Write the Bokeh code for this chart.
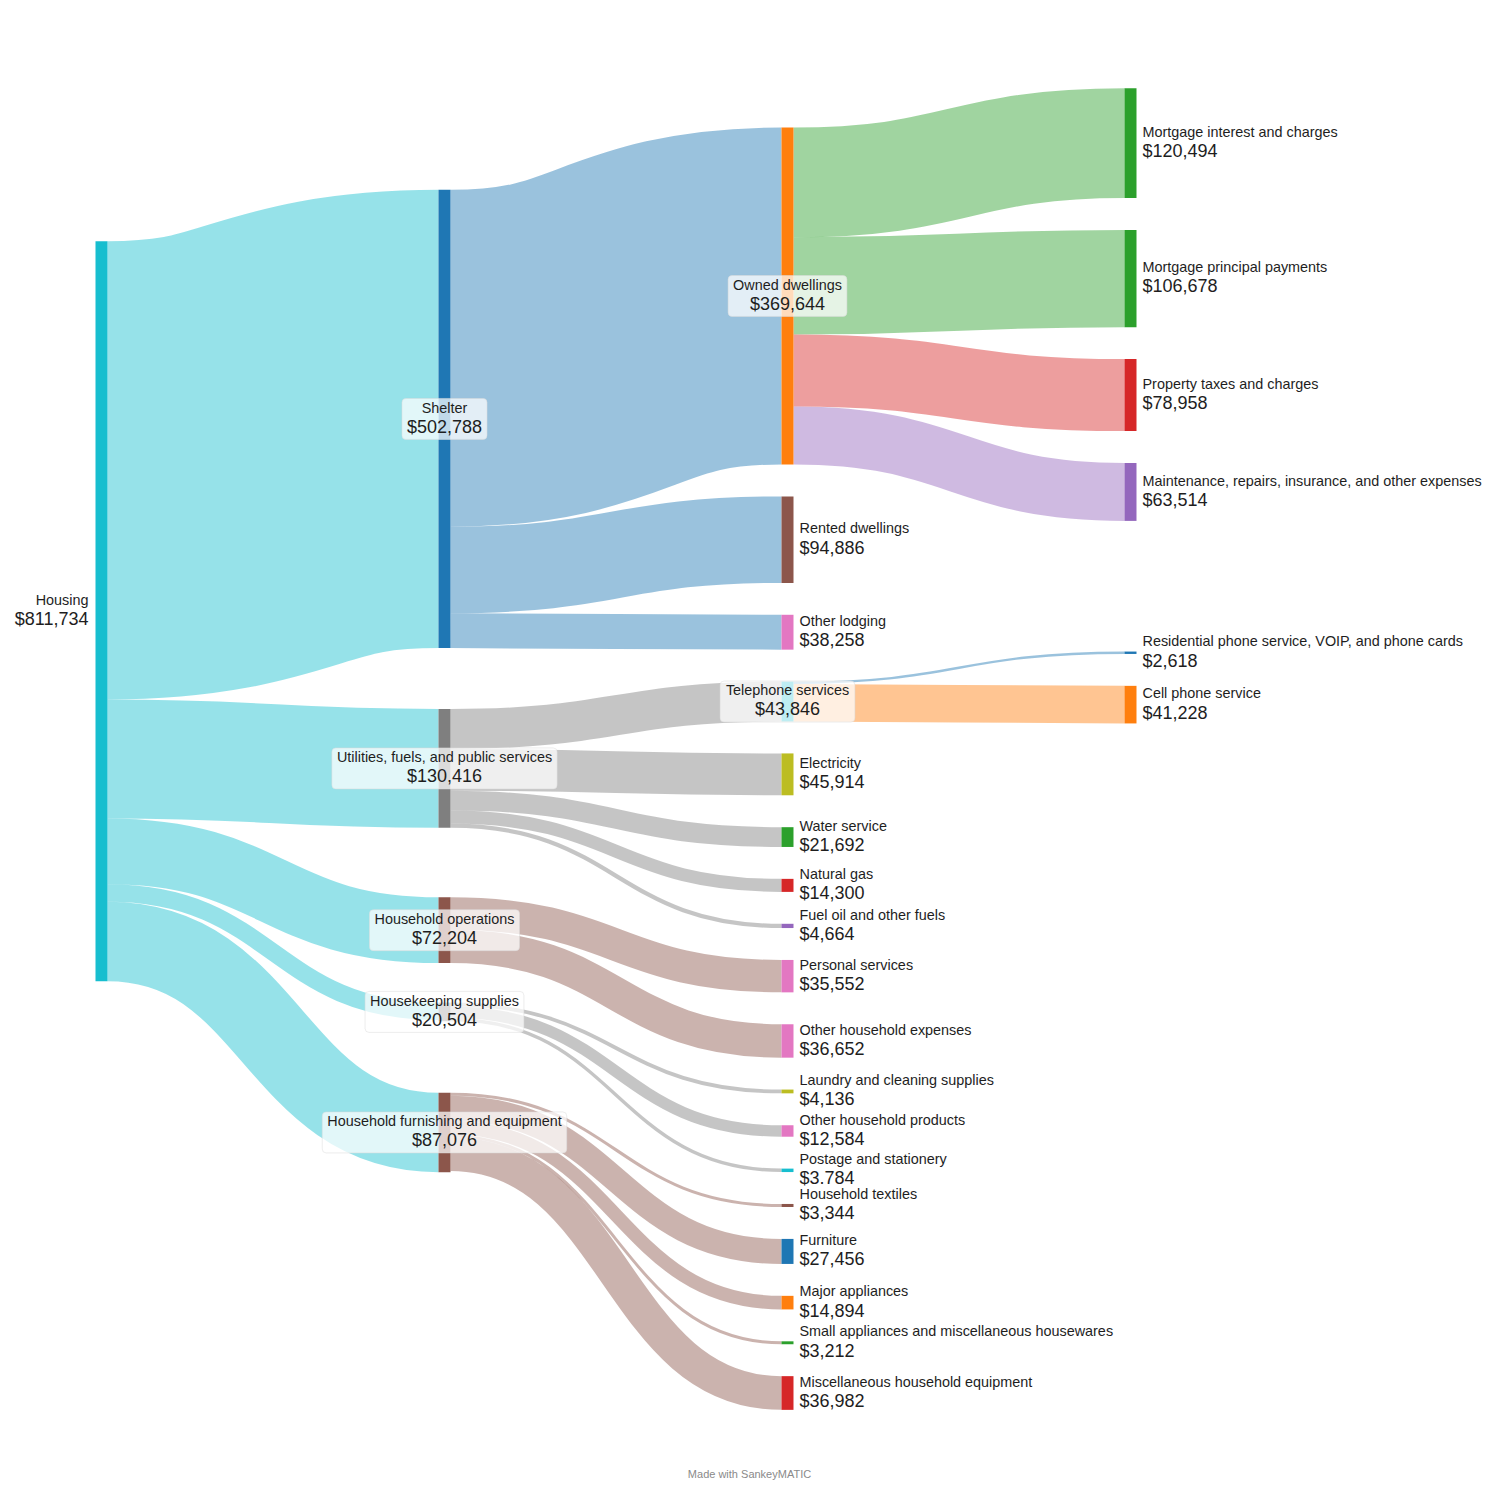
import numpy as np
from bokeh.plotting import figure
from bokeh.models import Range1d, ColumnDataSource
from bokeh.embed import file_html
from bokeh.resources import INLINE
from bokeh.core.properties import value

# ---------------- data ----------------
UTIL = "Utilities, fuels, and public services"
FURN = "Household furnishing and equipment"

flow_from = [
    "Housing", "Housing", "Housing", "Housing", "Housing",
    "Shelter", "Shelter", "Shelter",
    UTIL, UTIL, UTIL, UTIL, UTIL,
    "Household operations", "Household operations",
    "Housekeeping supplies", "Housekeeping supplies", "Housekeeping supplies",
    FURN, FURN, FURN, FURN, FURN,
    "Owned dwellings", "Owned dwellings", "Owned dwellings", "Owned dwellings",
    "Telephone services", "Telephone services",
]
flow_to = [
    "Shelter", UTIL, "Household operations", "Housekeeping supplies", FURN,
    "Owned dwellings", "Rented dwellings", "Other lodging",
    "Telephone services", "Electricity", "Water service", "Natural gas", "Fuel oil and other fuels",
    "Personal services", "Other household expenses",
    "Laundry and cleaning supplies", "Other household products", "Postage and stationery",
    "Household textiles", "Furniture", "Major appliances",
    "Small appliances and miscellaneous housewares", "Miscellaneous household equipment",
    "Mortgage interest and charges", "Mortgage principal payments",
    "Property taxes and charges", "Maintenance, repairs, insurance, and other expenses",
    "Residential phone service, VOIP, and phone cards", "Cell phone service",
]
flow_amount = [
    502788, 130416, 72204, 19250, 87076,
    369644, 94886, 38258,
    43846, 45914, 21692, 14300, 4664,
    35552, 36652,
    4136, 12584, 3784,
    3344, 27456, 14894, 3212, 36982,
    120494, 106678, 78958, 63514,
    2618, 41228,
]
value_text_override = {"Postage and stationery": "$3.784"}

# ---------------- styles ----------------
NODE_COLOR = {
    "Housing": "#17becf", "Shelter": "#1f77b4", UTIL: "#7f7f7f",
    "Household operations": "#8c564b", "Housekeeping supplies": "#7f7f7f", FURN: "#8c564b",
    "Owned dwellings": "#ff7f0e", "Rented dwellings": "#8c564b", "Other lodging": "#e377c2",
    "Telephone services": "#17becf", "Electricity": "#bcbd22", "Water service": "#2ca02c",
    "Natural gas": "#d62728", "Fuel oil and other fuels": "#9467bd",
    "Personal services": "#e377c2", "Other household expenses": "#e377c2",
    "Laundry and cleaning supplies": "#bcbd22", "Other household products": "#e377c2",
    "Postage and stationery": "#17becf", "Household textiles": "#8c564b",
    "Furniture": "#1f77b4", "Major appliances": "#ff7f0e",
    "Small appliances and miscellaneous housewares": "#2ca02c",
    "Miscellaneous household equipment": "#d62728",
    "Mortgage interest and charges": "#2ca02c", "Mortgage principal payments": "#2ca02c",
    "Property taxes and charges": "#d62728",
    "Maintenance, repairs, insurance, and other expenses": "#9467bd",
    "Residential phone service, VOIP, and phone cards": "#1f77b4",
    "Cell phone service": "#ff7f0e",
}
TARGET_COLORED = {"Owned dwellings", "Telephone services"}
FONT = "Liberation Sans"
TEXT_COLOR = "#1e1e1e"

W = H = 1484
ORIGIN = 1                    # observed screen position of plot's top-left corner
COL_X0, COL_STEP, NODE_W = 96, 343, 12
K = 740.0 / 811734.0          # px per dollar
GAP = 31.9 / K                # node padding in dollars
TOP_PX = 128                  # screen y of layout origin

# ---------------- layout ----------------
names = []
for s, t in zip(flow_from, flow_to):
    for n in (s, t):
        if n not in names:
            names.append(n)
inflow = {n: 0 for n in names}
outflow = {n: 0 for n in names}
out_links = {n: [] for n in names}
in_links = {n: [] for n in names}
for i, (s, t, v) in enumerate(zip(flow_from, flow_to, flow_amount)):
    outflow[s] += v
    inflow[t] += v
    out_links[s].append(i)
    in_links[t].append(i)
nval = {n: max(inflow[n], outflow[n]) for n in names}
depth = {}
for n in names:
    depth[n] = 0 if not in_links[n] else depth[flow_from[in_links[n][0]]] + 1
cols = {}
for n in names:
    cols.setdefault(depth[n], []).append(n)

out_off = [0.0] * len(flow_amount)
in_off = [0.0] * len(flow_amount)
for n in names:
    c = 0.0
    for i in out_links[n]:
        out_off[i] = c
        c += flow_amount[i]
    c = 0.0
    for i in in_links[n]:
        in_off[i] = c
        c += flow_amount[i]

top = {}
y = 0.0
for n in cols[2]:
    top[n] = y
    y += nval[n] + GAP


def left_align(n):
    w = sum(flow_amount[i] for i in in_links[n])
    return sum(flow_amount[i] * (top[flow_from[i]] + out_off[i] - in_off[i]) for i in in_links[n]) / w


def right_align(n):
    w = sum(flow_amount[i] for i in out_links[n])
    return sum(flow_amount[i] * (top[flow_to[i]] + in_off[i] - out_off[i]) for i in out_links[n]) / w


def resolve(nodes, desired):
    order = sorted(nodes, key=lambda n: desired[n])
    blocks = []

    def place(b):
        rel, r = {}, 0.0
        for n in b:
            rel[n] = r
            r += nval[n] + GAP
        wsum = sum(nval[n] for n in b)
        t0 = sum(nval[n] * (desired[n] - rel[n]) for n in b) / wsum
        return {n: t0 + rel[n] for n in b}

    for n in order:
        blocks.append([n])
        while len(blocks) > 1:
            a, b = place(blocks[-2]), place(blocks[-1])
            last_a = blocks[-2][-1]
            if a[last_a] + nval[last_a] + GAP > b[blocks[-1][0]]:
                merged = blocks[-2] + blocks[-1]
                blocks = blocks[:-2] + [merged]
            else:
                break
    for b in blocks:
        top.update(place(b))


resolve(cols[3], {n: left_align(n) for n in cols[3]})

for n in cols[1]:
    top[n] = right_align(n)
top["Housing"] = right_align("Housing")
for _ in range(200):
    new = {n: 0.5 * (left_align(n) + right_align(n)) for n in cols[1]}
    top.update(new)
    top["Housing"] = right_align("Housing")
resolve(cols[1], {n: top[n] for n in cols[1]})

xl = {n: COL_X0 + COL_STEP * depth[n] for n in names}

# ---------------- figure ----------------
p = figure(width=W, height=H, output_backend="svg", toolbar_location=None,
           x_range=Range1d(ORIGIN, W + ORIGIN),
           y_range=Range1d((H + ORIGIN - TOP_PX) / K, (ORIGIN - TOP_PX) / K),
           min_border=0)
p.axis.visible = False
p.xgrid.visible = False
p.ygrid.visible = False
p.outline_line_color = None
p.background_fill_color = "white"
p.border_fill_color = "white"

# links
L = dict(x0=[], y0=[], x1=[], y1=[], cx0=[], cy0=[], cx1=[], cy1=[], lw=[], color=[])
for i, (s, t, v) in enumerate(zip(flow_from, flow_to, flow_amount)):
    x0 = xl[s] + NODE_W
    x1 = xl[t]
    y0 = top[s] + out_off[i] + v / 2
    y1 = top[t] + in_off[i] + v / 2
    xm = (x0 + x1) / 2
    L["x0"].append(x0); L["y0"].append(y0); L["x1"].append(x1); L["y1"].append(y1)
    L["cx0"].append(xm); L["cy0"].append(y0); L["cx1"].append(xm); L["cy1"].append(y1)
    L["lw"].append(v * K)
    L["color"].append(NODE_COLOR[t] if s in TARGET_COLORED else NODE_COLOR[s])
p.bezier(x0="x0", y0="y0", x1="x1", y1="y1", cx0="cx0", cy0="cy0", cx1="cx1", cy1="cy1",
         line_width="lw", line_color="color", line_alpha=0.45, line_cap="butt",
         source=ColumnDataSource(L))

# nodes
p.quad(left=[xl[n] for n in names], right=[xl[n] + NODE_W for n in names],
       top=[top[n] for n in names], bottom=[top[n] + nval[n] for n in names],
       fill_color=[NODE_COLOR[n] for n in names], line_color=None)

# labels
AW = {' ': 278, '$': 556, ',': 278, '.': 278, 'A': 667, 'B': 667, 'C': 722, 'D': 722, 'E': 667,
      'F': 611, 'G': 778, 'H': 722, 'I': 278, 'M': 833, 'N': 722, 'O': 778, 'P': 667, 'R': 722,
      'S': 667, 'T': 611, 'U': 722, 'V': 667, 'W': 944, 'a': 556, 'b': 556, 'c': 500, 'd': 556,
      'e': 556, 'f': 278, 'g': 556, 'h': 556, 'i': 222, 'j': 222, 'k': 500, 'l': 222, 'm': 833,
      'n': 556, 'o': 556, 'p': 556, 'q': 556, 'r': 333, 's': 500, 't': 278, 'u': 556, 'v': 500,
      'w': 722, 'x': 500, 'y': 500, 'z': 500}


def tw(s, size):
    return sum(AW.get(ch, 556) for ch in s) * size / 1000.0


def vtext(n):
    return value_text_override.get(n, "${:,}".format(nval[n]))


NAME_SIZE, VAL_SIZE = 14.4, 18
groups = {"left": dict(x=[], y=[], name=[], val=[]),
          "right": dict(x=[], y=[], name=[], val=[]),
          "center": dict(x=[], y=[], name=[], val=[], bw=[])}
for n in names:
    cy = top[n] + nval[n] / 2
    if not in_links[n]:
        g = groups["left"]; g["x"].append(xl[n] - 7)
    elif not out_links[n]:
        g = groups["right"]; g["x"].append(xl[n] + NODE_W + 6)
    else:
        g = groups["center"]; g["x"].append(xl[n] + NODE_W / 2)
        g["bw"].append(max(tw(n, NAME_SIZE), tw(vtext(n), VAL_SIZE)) + 10)
    g["y"].append(cy); g["name"].append(n); g["val"].append(vtext(n))

gc = groups["center"]
p.rect(x=gc["x"], y=gc["y"], width=gc["bw"], height=41, width_units="screen",
       height_units="screen", fill_color="white", fill_alpha=0.72,
       line_color="#dcdcdc", line_alpha=0.5, line_width=1, border_radius=4)

for key, align in (("left", "right"), ("right", "left"), ("center", "center")):
    g = groups[key]
    src = ColumnDataSource(dict(x=g["x"], y=g["y"], name=g["name"], val=g["val"]))
    p.text(x="x", y="y", text="name", source=src, text_align=align, text_baseline="alphabetic",
           y_offset=-11.3, text_font=value(FONT), text_font_size="%gpx" % NAME_SIZE,
           text_color=TEXT_COLOR)
    p.text(x="x", y="y", text="val", source=src, text_align=align, text_baseline="alphabetic",
           y_offset=7.9, text_font=value(FONT), text_font_size="%gpx" % VAL_SIZE,
           text_color=TEXT_COLOR)

p.text(x=[750], y=[(1474 - TOP_PX) / K], text=["Made with SankeyMATIC"], text_align="center",
       text_baseline="middle", text_font=value(FONT), text_font_size="11px", text_color="#8a8a8a")

open("out.html", "w").write(file_html(p, INLINE))
